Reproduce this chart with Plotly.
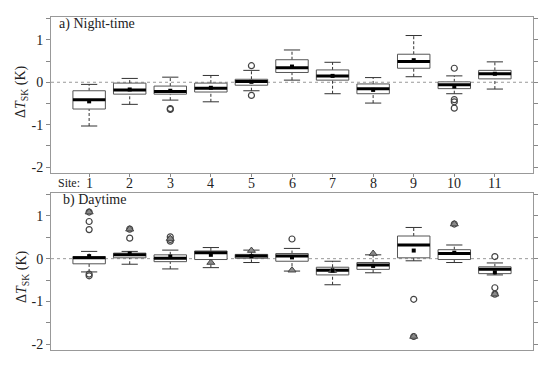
import plotly.graph_objects as go

sites = list(range(1, 12))
site_labels = [str(s) for s in sites]

# Night-time box statistics
n_lo   = [-1.03, -0.52, -0.42, -0.46, -0.20, 0.05, -0.27, -0.49, 0.13, -0.27, -0.16]
n_q1   = [-0.63, -0.28, -0.28, -0.23, -0.07, 0.23, 0.05, -0.27, 0.33, -0.15, 0.08]
n_med  = [-0.41, -0.18, -0.22, -0.14, 0.02, 0.34, 0.15, -0.15, 0.49, -0.06, 0.20]
n_q3   = [-0.20, -0.02, -0.09, -0.02, 0.07, 0.53, 0.29, -0.04, 0.66, 0.01, 0.28]
n_hi   = [-0.05, 0.09, 0.12, 0.16, 0.28, 0.76, 0.47, 0.11, 1.10, 0.15, 0.48]
n_mean = [-0.45, -0.17, -0.20, -0.13, 0.01, 0.37, 0.15, -0.18, 0.52, -0.10, 0.20]
n_out_x = [3, 3, 5, 5, 10, 10, 10, 10]
n_out_y = [-0.62, -0.64, 0.39, -0.31, 0.33, -0.41, -0.46, -0.61]

# Daytime box statistics
d_lo   = [-0.31, -0.13, -0.24, -0.21, -0.09, -0.29, -0.61, -0.33, -0.05, -0.09, -0.38]
d_q1   = [-0.12, 0.02, -0.07, -0.02, 0.01, -0.06, -0.38, -0.25, 0.02, -0.02, -0.35]
d_med  = [0.02, 0.09, 0.01, 0.14, 0.06, 0.06, -0.27, -0.15, 0.32, 0.12, -0.25]
d_q3   = [0.05, 0.13, 0.09, 0.18, 0.10, 0.12, -0.20, -0.09, 0.53, 0.21, -0.19]
d_hi   = [0.17, 0.17, 0.20, 0.26, 0.20, 0.24, -0.06, 0.09, 0.73, 0.32, -0.10]
d_mean = [0.06, 0.12, 0.05, 0.09, 0.06, 0.03, -0.28, -0.17, 0.19, 0.14, -0.32]
d_out_x = [1, 1, 1, 1, 1, 2, 2, 3, 3, 3, 6, 9, 9, 10, 11, 11, 11]
d_out_y = [1.09, 0.87, 0.68, -0.36, -0.40, 0.69, 0.48, 0.51, 0.45, 0.41, 0.46, -0.95, -1.82, 0.81, 0.05, -0.68, -0.83]
d_tri_x = [1, 2, 3, 4, 5, 6, 7, 8, 9, 10, 11]
d_tri_y = [1.09, 0.69, 0.47, -0.09, 0.19, -0.27, -0.28, 0.12, -1.82, 0.81, -0.83]

HW = 0.4   # box half width
CW = 0.2   # cap half width
FONT = "Liberation Serif"

fig = go.Figure()


def add_panel(xa, ya, lo, q1, med, q3, hi, mean, ox, oy, tx=None, ty=None):
    # whiskers (dashed)
    wx, wy = [], []
    for s, a, b, c, d in zip(sites, lo, q1, q3, hi):
        wx += [s, s, None, s, s, None]
        wy += [a, b, None, c, d, None]
    fig.add_trace(go.Scatter(x=wx, y=wy, mode="lines", xaxis=xa, yaxis=ya,
                             line=dict(color="#333", width=1, dash="3px,2px"),
                             showlegend=False, hoverinfo="skip"))
    # caps
    cx, cy = [], []
    for s, a, d in zip(sites, lo, hi):
        cx += [s - CW, s + CW, None, s - CW, s + CW, None]
        cy += [a, a, None, d, d, None]
    fig.add_trace(go.Scatter(x=cx, y=cy, mode="lines", xaxis=xa, yaxis=ya,
                             line=dict(color="#333", width=1),
                             showlegend=False, hoverinfo="skip"))
    # boxes
    for s, b, c in zip(sites, q1, q3):
        fig.add_trace(go.Scatter(x=[s - HW, s + HW, s + HW, s - HW, s - HW],
                                 y=[b, b, c, c, b], mode="lines", fill="toself",
                                 fillcolor="white", xaxis=xa, yaxis=ya,
                                 line=dict(color="#555", width=1),
                                 showlegend=False, hoverinfo="skip"))
    # medians
    mx, my = [], []
    for s, m in zip(sites, med):
        mx += [s - HW, s + HW, None]
        my += [m, m, None]
    fig.add_trace(go.Scatter(x=mx, y=my, mode="lines", xaxis=xa, yaxis=ya,
                             line=dict(color="black", width=3),
                             showlegend=False, hoverinfo="skip"))
    # outliers
    fig.add_trace(go.Scatter(x=ox, y=oy, mode="markers", xaxis=xa, yaxis=ya,
                             marker=dict(symbol="circle-open", size=6,
                                         color="#444", line=dict(width=1.2)),
                             showlegend=False))
    if tx is not None:
        fig.add_trace(go.Scatter(x=tx, y=ty, mode="markers", xaxis=xa, yaxis=ya,
                                 marker=dict(symbol="triangle-up", size=7,
                                             color="#8a8a8a",
                                             line=dict(color="#444", width=1)),
                                 showlegend=False))
    # means
    fig.add_trace(go.Scatter(x=sites, y=mean, mode="markers", xaxis=xa, yaxis=ya,
                             marker=dict(symbol="square", size=4, color="black"),
                             showlegend=False))


add_panel("x", "y", n_lo, n_q1, n_med, n_q3, n_hi, n_mean, n_out_x, n_out_y)
add_panel("x2", "y2", d_lo, d_q1, d_med, d_q3, d_hi, d_mean, d_out_x, d_out_y,
          d_tri_x, d_tri_y)

W, H = 550, 367
xdom = [51 / W, 533 / W]
top_dom = [1 - 173 / H, 1 - 17 / H]
bot_dom = [1 - 350 / H, 1 - 193 / H]
yr = [-2.136, 1.536]
xr = [0.06, 11.94]
ytv = [-2, -1.5, -1, -0.5, 0, 0.5, 1, 1.5]
ytt = ["-2", "", "-1", "", "0", "", "1", ""]

common_y = dict(range=yr, tickvals=ytv, ticktext=ytt, ticks="outside", ticklen=4,
                tickcolor="#888", showline=True, linecolor="#999", linewidth=1,
                mirror="ticks", showgrid=False, zeroline=False, automargin=False,
                tickfont=dict(family=FONT, size=14, color="#222"))

annotations = [
    dict(text="a) Night-time", xref="paper", yref="paper", x=57 / W, y=1 - 24 / H,
         xanchor="left", yanchor="middle", showarrow=False,
         font=dict(family=FONT, size=14, color="#222")),
    dict(text="b) Daytime", xref="paper", yref="paper", x=61 / W, y=1 - 200 / H,
         xanchor="left", yanchor="middle", showarrow=False,
         font=dict(family=FONT, size=14, color="#222")),
    dict(text="Site:", xref="paper", yref="paper", x=56 / W, y=1 - 183 / H,
         xanchor="left", yanchor="middle", showarrow=False,
         font=dict(family=FONT, size=12, color="#222")),
    dict(text="Δ<i>T</i><sub>SK</sub> (K)", xref="paper", yref="paper",
         x=22 / W, y=1 - 92 / H, textangle=-90, xanchor="center",
         yanchor="middle", showarrow=False,
         font=dict(family=FONT, size=14, color="#222")),
    dict(text="Δ<i>T</i><sub>SK</sub> (K)", xref="paper", yref="paper",
         x=22 / W, y=1 - 277 / H, textangle=-90, xanchor="center",
         yanchor="middle", showarrow=False,
         font=dict(family=FONT, size=14, color="#222")),
]
# site tick labels placed close under the top panel
for s, lab in zip(sites, site_labels):
    annotations.append(dict(text=lab, xref="x", yref="paper", x=s, y=1 - 183.5 / H,
                            xanchor="center", yanchor="middle", showarrow=False,
                            font=dict(family=FONT, size=14, color="#222")))

fig.update_layout(
    width=W, height=H, margin=dict(l=0, r=0, t=0, b=0),
    paper_bgcolor="white", plot_bgcolor="white",
    xaxis=dict(domain=xdom, range=xr, anchor="y", tickvals=sites, showticklabels=False,
               ticks="outside", ticklen=3, tickcolor="#888", showline=True,
               linecolor="#999", linewidth=1, mirror=True, showgrid=False,
               zeroline=False, automargin=False),
    yaxis=dict(domain=top_dom, anchor="x", **common_y),
    xaxis2=dict(domain=xdom, range=xr, anchor="y2", showticklabels=False, ticks="",
                showline=True, linecolor="#999", linewidth=1, mirror=True,
                showgrid=False, zeroline=False, automargin=False),
    yaxis2=dict(domain=bot_dom, anchor="x2", **common_y),
    shapes=[
        dict(type="line", xref="x domain", yref="y", x0=0, x1=1, y0=0, y1=0,
             line=dict(color="#999", width=1, dash="dot"), layer="below"),
        dict(type="line", xref="x2 domain", yref="y2", x0=0, x1=1, y0=0, y1=0,
             line=dict(color="#999", width=1, dash="dot"), layer="below"),
    ],
    annotations=annotations,
)

fig.write_html("out.html", config={"displayModeBar": False},
               post_script="document.body.style.margin='0';")
